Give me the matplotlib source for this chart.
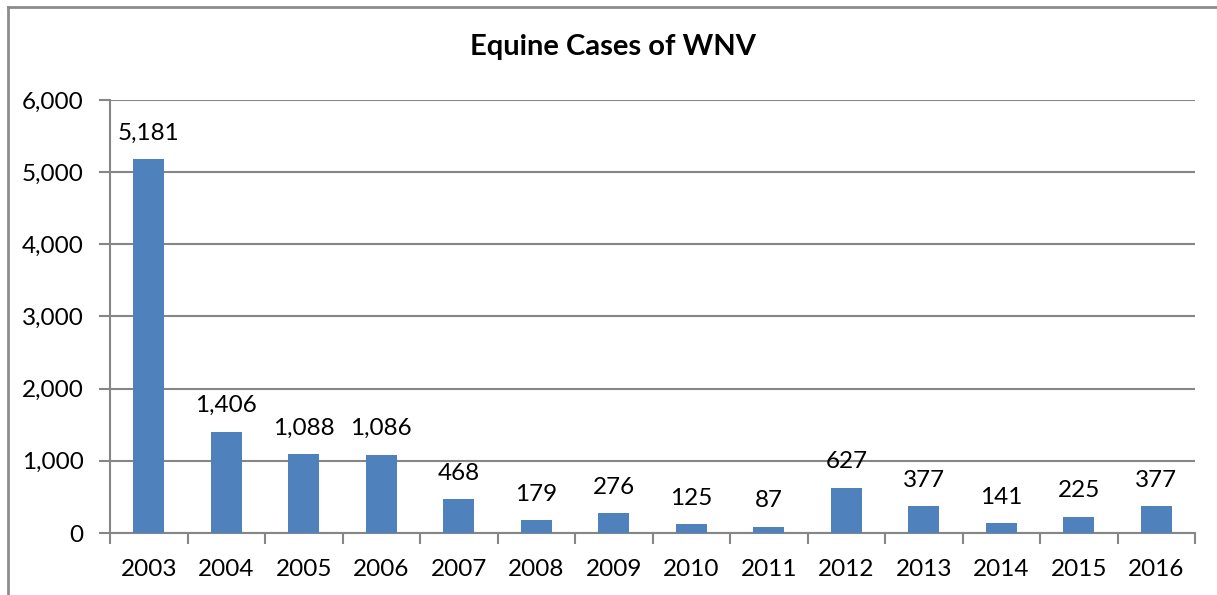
import matplotlib.pyplot as plt
from matplotlib.lines import Line2D

years = ['2003', '2004', '2005', '2006', '2007', '2008', '2009',
         '2010', '2011', '2012', '2013', '2014', '2015', '2016']
cases = [5181, 1406, 1088, 1086, 468, 179, 276, 125, 87, 627, 377, 141, 225, 377]
yticks = [0, 1000, 2000, 3000, 4000, 5000, 6000]

plt.rcParams['font.family'] = ['Lato', 'DejaVu Sans']
fs = 17.5

fig = plt.figure(figsize=(12.17, 5.95), dpi=100)
ax = fig.add_axes([0.0904, 0.1042, 0.8916, 0.7278])

x = list(range(len(years)))
bars = ax.bar(x, cases, width=0.4, color='#4F81BD', zorder=3)

# data labels
for xi, v in zip(x, cases):
    ax.annotate(f'{v:,}', (xi, v), xytext=(0, 11), textcoords='offset points',
                ha='center', va='bottom', fontsize=fs)

ax.set_xlim(-0.5, len(years) - 0.5)
ax.set_ylim(0, 6000)
ax.set_yticks(yticks)
ax.set_yticklabels([f'{t:,}' for t in yticks], fontsize=fs)
ax.set_xticks(x)
ax.set_xticklabels(years, fontsize=fs)
ax.tick_params(axis='x', length=0, pad=19)
ax.set_xticks([i - 0.5 for i in range(len(years) + 1)], minor=True)
ax.tick_params(axis='x', which='minor', length=8, width=1.5, color='#868686')
ax.tick_params(axis='y', length=8, width=1.5, color='#868686', pad=11)

ax.yaxis.grid(True, color='#868686', linewidth=1.5, zorder=0)
for s in ['top', 'right']:
    ax.spines[s].set_visible(False)
for s in ['left', 'bottom']:
    ax.spines[s].set_color('#868686')
    ax.spines[s].set_linewidth(1.5)

fig.text(0.504, 0.921, 'Equine Cases of WNV', ha='center', va='center',
         fontsize=21, fontweight='bold')

# chart border (top and left visible)
fig.add_artist(Line2D([0.0066, 1.0], [0.9874, 0.9874], color='#8c8c8c', lw=2))
fig.add_artist(Line2D([0.0066, 0.0066], [0.0, 0.9874], color='#8c8c8c', lw=2))

fig.savefig('out.png', dpi=100)
